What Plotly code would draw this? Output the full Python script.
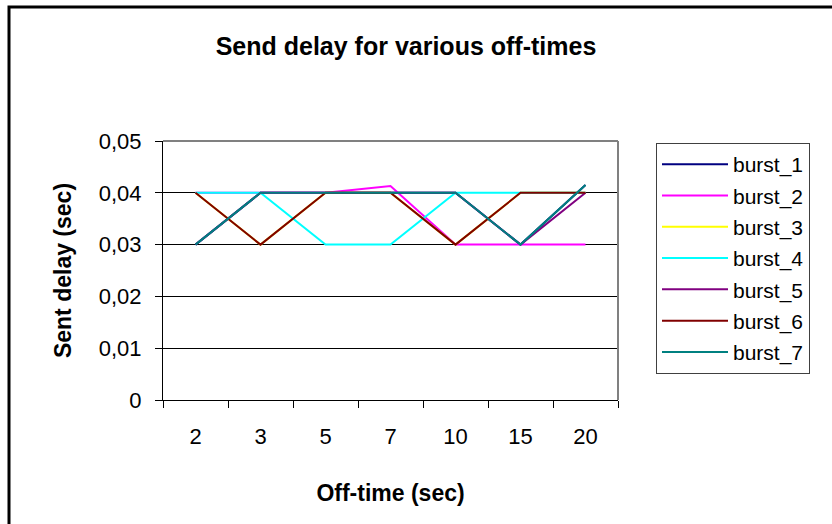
import plotly.graph_objects as go

# Off-time categories (x axis)
off_times = ["2", "3", "5", "7", "10", "15", "20"]

# Send delay (sec) per burst series
burst_1 = [0.03, 0.04, 0.04, 0.04, 0.04, 0.03, 0.0415]
burst_2 = [0.04, 0.04, 0.04, 0.0413, 0.03, 0.03, 0.03]
burst_3 = [0.04, 0.03, 0.04, 0.04, 0.03, 0.04, 0.04]
burst_4 = [0.04, 0.04, 0.03, 0.03, 0.04, 0.04, 0.04]
burst_5 = [0.03, 0.04, 0.04, 0.04, 0.04, 0.03, 0.04]
burst_6 = [0.04, 0.03, 0.04, 0.04, 0.03, 0.04, 0.04]
burst_7 = [0.03, 0.04, 0.04, 0.04, 0.04, 0.03, 0.0415]

series_names = ["burst_1", "burst_2", "burst_3", "burst_4", "burst_5", "burst_6", "burst_7"]
series_values = [burst_1, burst_2, burst_3, burst_4, burst_5, burst_6, burst_7]
series_colors = ["#000080", "#FF00FF", "#FFFF00", "#00FFFF", "#800080", "#800000", "#008080"]

y_tick_values = [0, 0.01, 0.02, 0.03, 0.04, 0.05]
y_tick_labels = ["0", "0,01", "0,02", "0,03", "0,04", "0,05"]

FONT = "Liberation Sans, Arial, sans-serif"

fig = go.Figure()
for name, vals, col in zip(series_names, series_values, series_colors):
    fig.add_trace(go.Scatter(
        x=off_times, y=vals, name=name, mode="lines",
        line=dict(color=col, width=2),
        legendgroup=name,
    ))

fig.update_layout(
    width=832, height=524,
    margin=dict(l=163, r=214, t=141, b=124),
    paper_bgcolor="white", plot_bgcolor="white",
    font=dict(family=FONT, size=22, color="black"),
    title=dict(
        text="<b>Send delay for various off-times</b>",
        x=406 / 832, xref="container", xanchor="center",
        y=1 - 46 / 524, yanchor="middle",
        font=dict(family=FONT, size=25, color="black"),
    ),
    showlegend=True,
    legend=dict(
        x=(656 - 163) / 455, y=(400 - 143) / 259,
        xanchor="left", yanchor="top",
        bordercolor="#404040", borderwidth=1,
        bgcolor="white",
        font=dict(family=FONT, size=21, color="black"),
        traceorder="grouped", tracegroupgap=1,
        itemwidth=66,
    ),
)

fig.update_xaxes(
    type="category",
    range=[-0.5, 6.5],
    showline=True, linecolor="black", linewidth=1,
    ticks="outside", tickson="boundaries", ticklen=7, tickcolor="black",
    ticklabelstandoff=17,
    showgrid=False, zeroline=False,
    tickfont=dict(family=FONT, size=22, color="black"),
    title=dict(text="<b>Off-time (sec)</b>", standoff=36,
               font=dict(family=FONT, size=23, color="black")),
)

fig.update_yaxes(
    range=[0, 0.05],
    tickvals=y_tick_values, ticktext=y_tick_labels,
    showline=True, linecolor="black", linewidth=1,
    ticks="outside", ticklen=7, tickcolor="black",
    ticklabelstandoff=9,
    showgrid=True, gridcolor="black", gridwidth=1,
    zeroline=False,
    tickfont=dict(family=FONT, size=22, color="black"),
    title=dict(text="<b>Sent delay (sec)</b>", standoff=20,
               font=dict(family=FONT, size=23, color="black")),
)

# Gray top and right edges of the plot area
fig.add_shape(type="line", xref="paper", yref="paper", x0=0, x1=1, y0=1, y1=1,
              line=dict(color="#808080", width=2))
fig.add_shape(type="line", xref="paper", yref="paper", x0=1, x1=1, y0=0, y1=1,
              line=dict(color="#808080", width=2))

# Outer chart frame
fig.add_shape(type="rect", xref="paper", yref="paper",
              x0=(9 - 163) / 455, x1=1.6, y0=(400 - 7) / 259, y1=-0.7,
              line=dict(color="black", width=3), layer="below")

fig.write_html("out.html")
